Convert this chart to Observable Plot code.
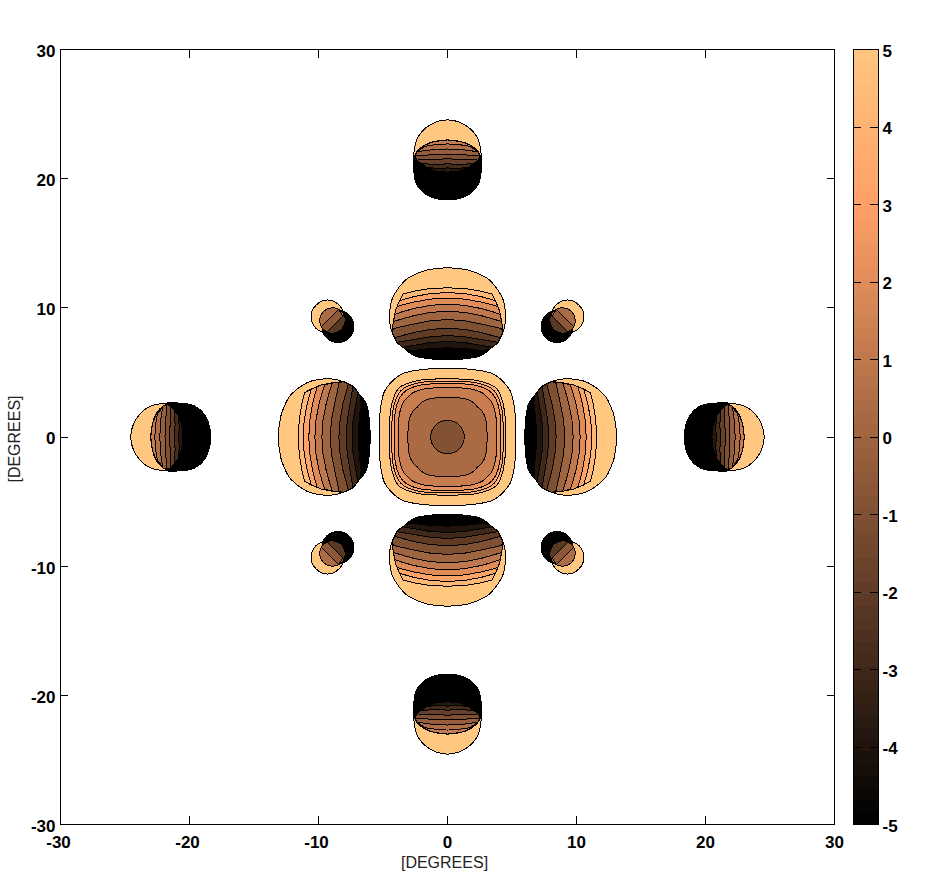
<!DOCTYPE html>
<html>
<head>
<meta charset="utf-8">
<script src="https://cdn.jsdelivr.net/npm/d3@7"></script>
<script src="https://cdn.jsdelivr.net/npm/@observablehq/plot@0.6"></script>
<style>
html,body{margin:0;padding:0;background:#fff}
#chart{display:flex;width:929px;height:880px}
#chart svg{display:block;flex:none;max-width:none}
#chart svg path,#chart svg rect,#chart svg line{shape-rendering:crispEdges}
</style>
</head>
<body>
<div id="chart"></div>
<script>
// Axis ticks
const axisTicks = [-30,-20,-10,0,10,20,30];
const axisTicksNegative = [-30,-20,-10];
const axisTicksOther = [0,10,20,30];
const barTicks = [-5,-4,-3,-2,-1,0,1,2,3,4,5];
const axisTitle = "[DEGREES]";

// Copper colour map
const colorDomain = [-5,3,5];
const colorRange = ["#000000","#ffa066","#ffc77f"];
const barSteps = d3.range(64);

// Central lobe: first-octant contour points [a,b], with filled level
const centerContours = [
  [[5.3,0],[5.22,2.0],[4.9,3.5],[4.3,4.3]],
  [[4.5,0],[4.42,2.0],[4.12,3.2],[3.78,3.78]],
  [[4.32,0],[4.24,2.0],[3.95,3.05],[3.6,3.6]],
  [[4.13,0],[4.04,2.0],[3.75,2.95],[3.42,3.42]],
  [[3.82,0],[3.72,1.8],[3.42,2.7],[3.08,3.08]],
  [[3.07,0],[2.95,1.4],[2.68,2.0],[2.33,2.33]],
  [[1.3,0],[1.2,0.5],[0.92,0.92]]
];
const centerLevels = [5,3.9,3.2,2.2,1.27,0.3,-0.9];

// Near lobes: half outline [u,r], u = lateral, r = radial
const nearOutline = [[0,13.1],[1.58,12.93],[2.6,12.55],[3.1,12.28],[3.5,11.9],[3.95,11.32],[4.29,10.69],[4.45,10.0],[4.5,9.0],[4.3,8.1],[3.9,7.3],[3.4,6.9],[2.6,6.3],[1.3,6.05],[0,6.0]];
const nearSide = [[3.44,11.08],[3.77,10.43],[4.03,9.79],[4.21,8.89],[4.29,8.11],[3.9,7.3],[3.4,6.9],[2.6,6.3],[1.3,6.05],[0,6.0]];
const nearArcs = [
  [[0,11.55],[1.3,11.5],[2.6,11.29],[3.44,11.08]],
  [[0,11.18],[1.3,11.11],[2.6,10.87],[3.7,10.56]],
  [[0,10.75],[1.3,10.68],[2.6,10.45],[3.4,10.25],[3.9,10.1]],
  [[0,10.28],[1.3,10.2],[2.6,9.95],[3.5,9.7],[4.05,9.5]],
  [[0,9.74],[1.3,9.65],[2.6,9.4],[3.5,9.15],[4.15,8.95]],
  [[0,9.09],[1.3,9.0],[2.6,8.75],[3.5,8.55],[4.2,8.4]],
  [[0,8.42],[1.3,8.33],[2.6,8.1],[3.5,7.85],[4.1,7.7]],
  [[0,7.85],[1.3,7.77],[2.6,7.55],[3.77,7.35]],
  [[0,7.39],[1.3,7.32],[2.6,7.1],[3.44,6.96]],
  [[0,6.9],[1.3,6.85],[2.6,6.7],[3.2,6.75]]
];
const nearLevels = [4.2,3.2,2,1,0,-1,-2,-3,-4,-5];

// Far lobes
const farLight = [[0,24.55],[1.45,24.1],[2.35,23.1],[2.61,21.9],[2.61,21],[2.0,20.2],[0,20]];
const farDark = [[0,23.0],[1.06,22.87],[1.83,22.56],[2.4,22.05],[2.62,21.4],[2.61,20.6],[2.45,19.7],[2.0,19.05],[1.35,18.62],[0,18.35]];
const farSide = [[2.4,22.05],[2.52,21.75],[2.35,21.4],[1.7,20.9],[1.0,20.6],[0,20.5]];
const farArcs = [
  [[0,23.0],[1.06,22.87],[1.83,22.56],[2.4,22.05]],
  [[0,22.69],[1.0,22.62],[1.75,22.5]],
  [[0,22.3],[1.2,22.24],[2.25,22.1]],
  [[0,21.9],[1.3,21.85],[2.5,21.75]],
  [[0,21.53],[1.2,21.5],[2.3,21.45]],
  [[0,21.14],[1.0,21.12],[1.95,21.15]],
  [[0,20.83],[0.8,20.8],[1.5,20.85]]
];
const farLevels = [1.2,0.5,-0.3,-1,-1.8,-2.8,-3.8];

// Corner lobes, upper-right quadrant [x,y]
const cornerLight = [[10.58,9.33],[10.2,10.2],[9.3,10.61],[8.4,10.2],[8.02,9.33],[8.4,8.42],[9.3,8.05],[10.2,8.42]];
const cornerDark = [[9.73,8.55],[9.37,9.43],[8.49,9.79],[7.61,9.43],[7.25,8.55],[7.61,7.67],[8.49,7.31],[9.37,7.67]];
const cornerLens = [[9.9,9.0],[9.61,9.71],[8.9,10.0],[8.19,9.71],[7.9,9.0],[8.19,8.29],[8.9,8.0],[9.61,8.29]];
const cornerBands = [
  [[9.79,8.54],[9.61,8.29],[8.9,8.0],[8.19,8.29],[7.9,9.0],[8.44,9.89]],
  [[9.36,8.11],[8.9,8.0],[8.19,8.29],[7.9,9.0],[8.01,9.46]]
];
const cornerLensLevel = 0.4;
const cornerBandLevels = [-0.6,-2.2];

// Build rows
const smooth = [], bands = [];
let nextId = 0;
const push = (rows, pts, level) => { const id = nextId++; for (const [x,y] of pts) rows.push({id,x,y,level}); };
const mirrorHalf = (half) => half.concat(half.slice().reverse().filter(p => p[0] !== 0).map(([u,r]) => [-u,r]));
const bandPolygon = (arc, side) => mirrorHalf(arc.concat(side.filter(p => p[1] < arc[arc.length-1][1])));
const lobeViews = [
  ([u,r]) => [u,r], ([u,r]) => [u,-r], ([u,r]) => [r,u], ([u,r]) => [-r,u]
];
for (const view of lobeViews) {
  push(smooth, mirrorHalf(nearOutline).map(view), 5);
  nearArcs.forEach((arc,i) => push(bands, bandPolygon(arc, nearSide).map(view), nearLevels[i]));
  push(smooth, mirrorHalf(farLight).map(view), 5);
  push(smooth, mirrorHalf(farDark).map(view), -5);
  farArcs.forEach((arc,i) => push(bands, bandPolygon(arc, farSide).map(view), farLevels[i]));
}
for (const [sx,sy] of [[1,1],[-1,1],[1,-1],[-1,-1]]) {
  const flip = ([x,y]) => [sx*x, sy*y];
  push(smooth, cornerLight.map(flip), 5);
  push(smooth, cornerDark.map(flip), -5);
  push(smooth, cornerLens.map(flip), cornerLensLevel);
  cornerBands.forEach((b,i) => push(bands, b.map(flip), cornerBandLevels[i]));
}
const fullContour = (oct) => {
  const q = oct.concat(oct.slice(0,-1).reverse().map(([a,b]) => [b,a]));
  const out = [];
  for (const [sx,sy,swap] of [[1,1,0],[-1,1,1],[-1,-1,0],[1,-1,1]]) {
    for (const [a,b] of q.slice(0,-1)) out.push(swap ? [sx*b, sy*a] : [sx*a, sy*b]);
  }
  return out;
};
centerContours.forEach((c,i) => push(smooth, fullContour(c), centerLevels[i]));

const colorOpts = {type:"linear", domain:colorDomain, range:colorRange};
const font = "Liberation Sans";
const tickStyle = {fontSize:17, fontWeight:"bold", fontFamily:font, fill:"black"};
const asText = d => String(d);
const noText = () => "";

const main = Plot.plot({
  width:845, height:880,
  marginLeft:60, marginRight:11, marginTop:49, marginBottom:56,
  x:{domain:[-30,30], label:null},
  y:{domain:[-30,30], label:null},
  color:colorOpts,
  style:{background:"transparent"},
  marks:[
    Plot.line(smooth,{x:"x",y:"y",z:"id",fill:"level",stroke:"black",strokeWidth:1,curve:"catmull-rom-closed"}),
    Plot.line(bands,{x:"x",y:"y",z:"id",fill:"level",stroke:"black",strokeWidth:1,curve:"linear-closed"}),
    Plot.axisX({anchor:"bottom",ticks:axisTicksNegative,tickSize:0,tickPadding:11,dx:-2,tickFormat:asText,label:null,...tickStyle}),
    Plot.axisX({anchor:"bottom",ticks:axisTicksOther,tickSize:0,tickPadding:11,tickFormat:asText,label:null,...tickStyle}),
    Plot.axisY({anchor:"left",ticks:axisTicks,tickSize:0,tickPadding:5,dy:2,tickFormat:asText,label:null,...tickStyle}),
    Plot.axisX({anchor:"bottom",ticks:axisTicks,tickSize:-8,tickFormat:noText,label:null}),
    Plot.axisY({anchor:"left",ticks:axisTicks,tickSize:-8,tickFormat:noText,label:null}),
    Plot.axisX({anchor:"top",ticks:axisTicks,tickSize:-8,tickFormat:noText,label:null}),
    Plot.axisY({anchor:"right",ticks:axisTicks,tickSize:-8,tickFormat:noText,label:null}),
    Plot.frame({stroke:"black"}),
    Plot.text([axisTitle],{frameAnchor:"bottom",dx:-3,dy:43,fontSize:16,fontFamily:font,fill:"#222"}),
    Plot.text([axisTitle],{frameAnchor:"left",textAnchor:"middle",dx:-46,dy:2,rotate:-90,fontSize:16,fontFamily:font,fill:"#222"})
  ]
});

const bar = Plot.plot({
  width:84, height:880,
  marginLeft:8, marginRight:51, marginTop:49, marginBottom:56,
  x:{domain:[0,1],axis:null},
  y:{domain:[-5,5],label:null},
  color:colorOpts,
  style:{background:"transparent"},
  marks:[
    Plot.rect(barSteps,{x1:0,x2:1,y1:i=>-5+i*10/64,y2:i=>-5+(i+1)*10/64,fill:i=>-5+(i+0.5)*10/64}),
    Plot.ruleY(barTicks,{x1:0,x2:0.32,stroke:"black"}),
    Plot.ruleY(barTicks,{x1:0.68,x2:1,stroke:"black"}),
    Plot.axisY({anchor:"right",ticks:barTicks,tickSize:0,tickPadding:4,dy:2,tickFormat:asText,label:null,...tickStyle}),
    Plot.frame({stroke:"black"})
  ]
});

document.getElementById("chart").append(main, bar);
</script>
</body>
</html>
